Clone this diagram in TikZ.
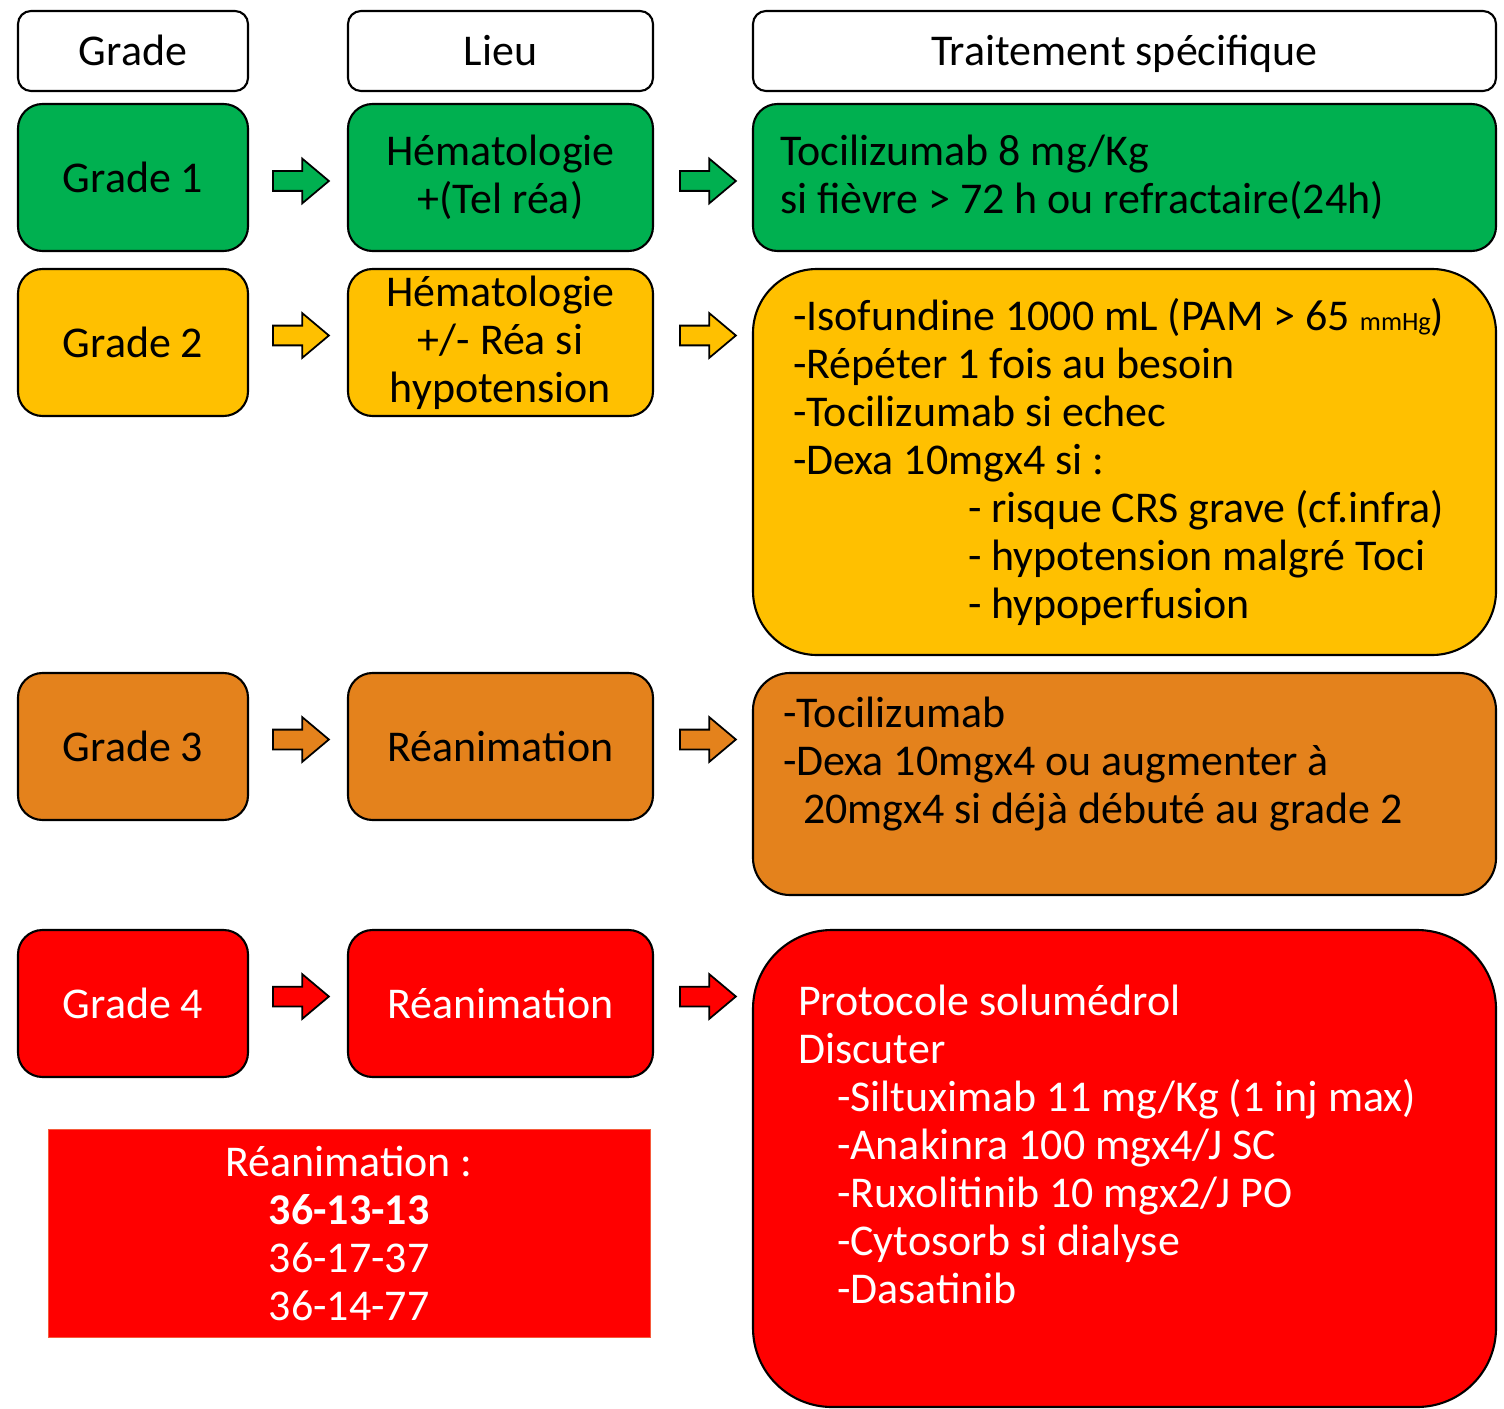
\documentclass[tikz,border=0pt]{standalone}
\usepackage{fontspec}
\setmainfont{Carlito}
\usetikzlibrary{shapes,arrows.meta,positioning,calc}
\definecolor{gGreen}{RGB}{0,176,80}
\definecolor{gYellow}{RGB}{255,192,0}
\definecolor{gOrange}{RGB}{228,130,28}
\definecolor{gRed}{RGB}{255,0,0}
\definecolor{reaEdge}{RGB}{245,90,60}

\begin{document}
\begin{tikzpicture}[
  every node/.style={font=\fontsize{12.5}{13.66}\selectfont},
  hdrbox/.style={draw, line width=0.6pt, outer sep=0pt, rounded corners=0.13cm, minimum height=0.80cm,
    inner sep=0pt, text height=0.40cm, text depth=0.10cm},
  gradebox/.style={draw, line width=0.6pt, outer sep=0pt, rounded corners=0.245cm, minimum width=2.30cm,
    minimum height=1.47cm, inner sep=0pt, align=center},
  lieubox/.style={gradebox, minimum width=3.05cm},
  traitbox/.style={draw, line width=0.6pt, outer sep=0pt, align=left,
    execute at begin node={\spaceskip=0pt\xspaceskip=0pt\relax}},
  fwdarrow/.style={single arrow, draw, line width=0.5pt, minimum height=0.56cm, inner xsep=0pt, inner ysep=0.09cm,
    single arrow head extend=0.125cm, single arrow tip angle=80}
]
  \useasboundingbox (0,0) rectangle (15.04,-14.09);

  % headers
  \node (hGrade) [hdrbox, minimum width=2.30cm] at (1.33,-0.51) {Grade};
  \node (hLieu) [hdrbox, minimum width=3.05cm, right=1cm of hGrade] {Lieu};
  \node (hTrait) [hdrbox, minimum width=7.43cm, right=1cm of hLieu] {Traitement spécifique};

  % grade 1
  \node (g1) [gradebox, fill=gGreen, below=0.13cm of hGrade] {Grade 1};
  \node (l1) [lieubox, fill=gGreen, below=0.13cm of hLieu] {Hématologie\\+(Tel réa)};
  \node (t1) [traitbox, fill=gGreen, rounded corners=0.245cm, inner xsep=0.27cm, text width=6.89cm,
    minimum height=1.47cm, below=0.13cm of hTrait]
    {Tocilizumab 8 mg/Kg\\si fièvre > 72 h ou refractaire(24h)};

  % grade 2
  \node (g2) [gradebox, fill=gYellow, below=0.18cm of g1] {Grade 2};
  \node (l2) [lieubox, fill=gYellow, below=0.18cm of l1] {Hématologie\\+/- Réa si\\hypotension};
  \node (t2) [traitbox, fill=gYellow, rounded corners=0.64cm, inner xsep=0.40cm, text width=6.63cm,
    minimum height=3.86cm, below=0.18cm of t1]
    {\mbox{-Isofundine 1000 mL (PAM > 65 {\fontsize{7.5}{8}\selectfont mmHg})}\\
     -Répéter 1 fois au besoin\\
     -Tocilizumab si echec\\
     -Dexa 10mgx4 si :\\
     \hspace*{1.75cm}\mbox{- risque CRS grave (cf.infra)}\\
     \hspace*{1.75cm}\mbox{- hypotension malgré Toci}\\
     \hspace*{1.75cm}- hypoperfusion};

  % grade 3
  \node (t3) [traitbox, fill=gOrange, rounded corners=0.37cm, inner xsep=0.30cm, text width=6.83cm,
    minimum height=2.22cm, below=0.18cm of t2]
    {-Tocilizumab\\
     -Dexa 10mgx4 ou augmenter à\\
     \hspace*{0.2cm}\mbox{20mgx4 si déjà débuté au grade 2}\\ \mbox{}};
  \node (g3) [gradebox, fill=gOrange, anchor=north] at (g2 |- t3.north) {Grade 3};
  \node (l3) [lieubox, fill=gOrange, anchor=north] at (l2 |- t3.north) {Réanimation};

  % grade 4
  \node (t4) [traitbox, fill=gRed, text=white, rounded corners=0.79cm, inner xsep=0.45cm, text width=6.53cm,
    minimum height=4.77cm, below=0.35cm of t3]
    {Protocole solumédrol\\
     Discuter\\
     \hspace*{0.39cm}\mbox{-Siltuximab 11 mg/Kg (1 inj max)}\\
     \hspace*{0.39cm}-Anakinra 100 mgx4/J SC\\
     \hspace*{0.39cm}-Ruxolitinib 10 mgx2/J PO\\
     \hspace*{0.39cm}-Cytosorb si dialyse\\
     \hspace*{0.39cm}-Dasatinib\\ \mbox{}};
  \node (g4) [gradebox, fill=gRed, text=white, anchor=north] at (g3 |- t4.north) {Grade 4};
  \node (l4) [lieubox, fill=gRed, text=white, anchor=north] at (l3 |- t4.north) {Réanimation};

  \node (rea) [fill=gRed, draw=reaEdge, line width=0.2pt, outer sep=0pt, text=white, align=center,
    minimum width=6.02cm, minimum height=2.08cm, anchor=north east]
    at ([shift={(-0.03,-0.52)}]l4.south east)
    {Réanimation :\\\textbf{36-13-13}\\36-17-37\\36-14-77};

  % block arrows
  \foreach \r/\c/\dy in {1/gGreen/-0.035, 2/gYellow/0.07, 3/gOrange/0.07, 4/gRed/0.07} {
    \node (ga\r) [fwdarrow, fill=\c] at ($(g\r.east)!0.5!(l\r.west)+(-0.03,\dy)$) {};
    \node (la\r) [fwdarrow, fill=\c] at ($(l\r.east)!0.5!(l\r.east -| t\r.west)+(-0.01,\dy)$) {};
  }
\end{tikzpicture}
\end{document}
